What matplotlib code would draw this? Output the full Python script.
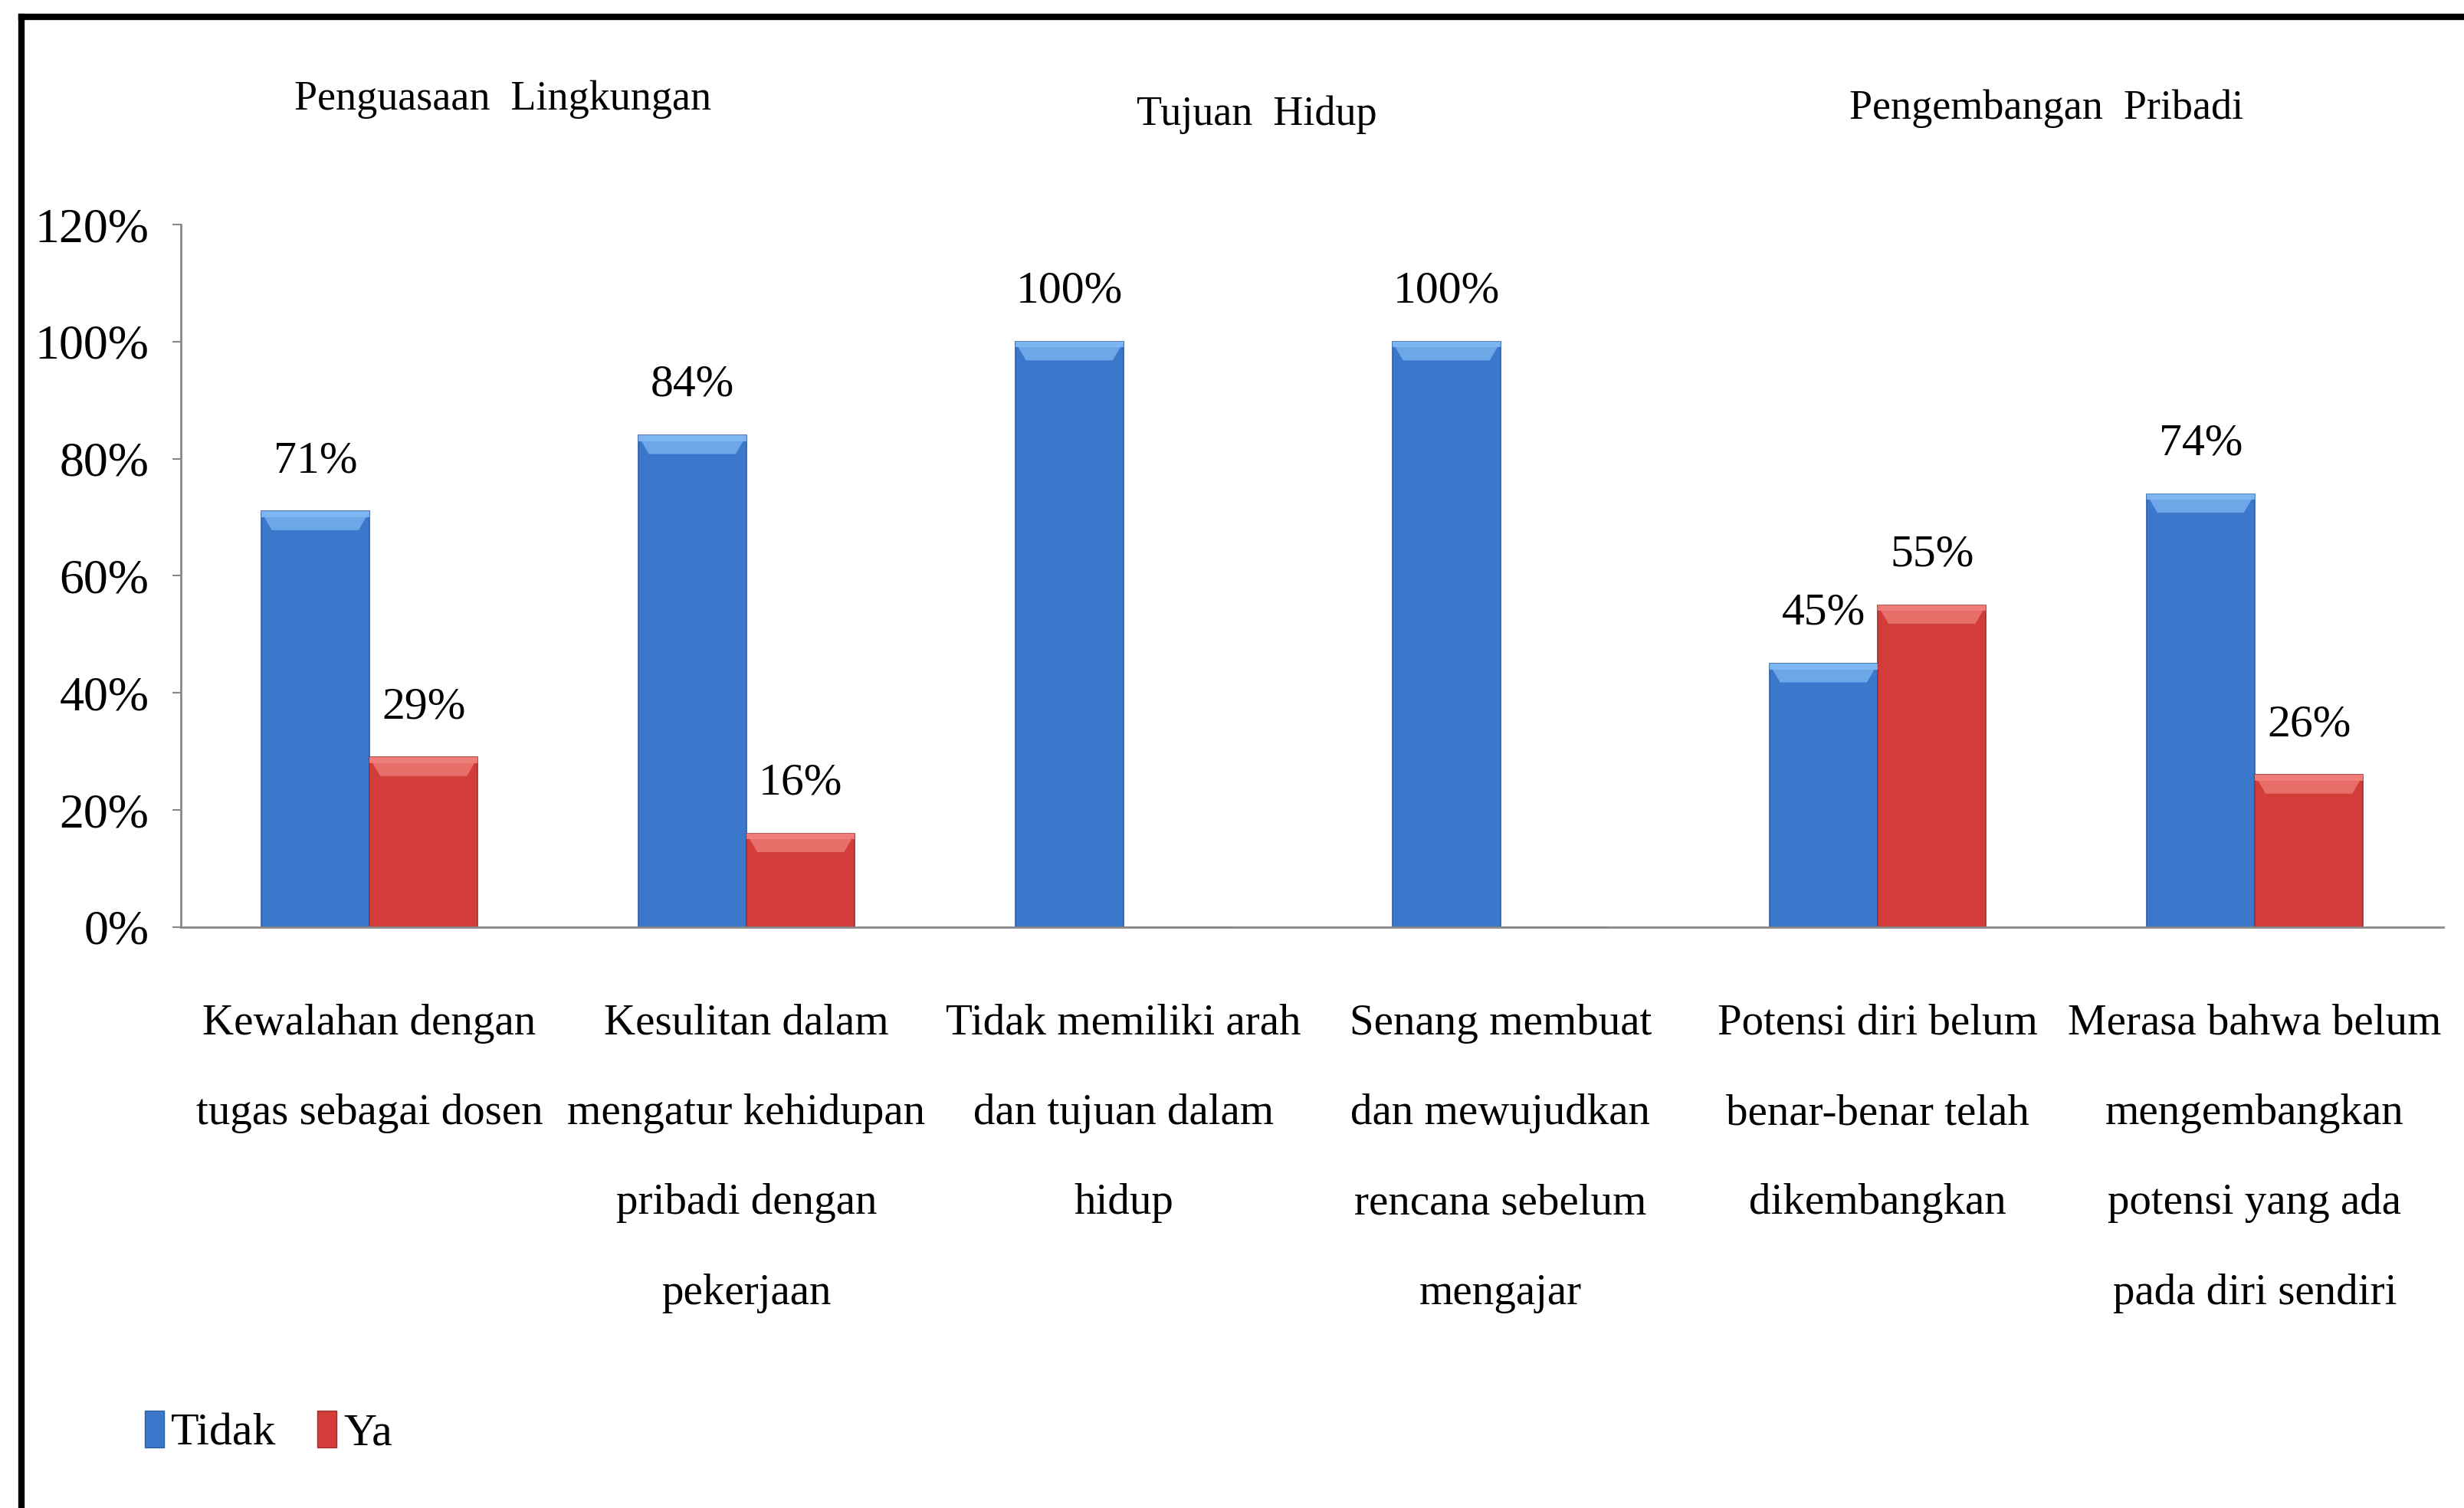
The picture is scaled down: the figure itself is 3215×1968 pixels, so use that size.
import matplotlib
matplotlib.use("Agg")
import matplotlib.pyplot as plt
from matplotlib.patches import Patch, Polygon
from matplotlib.lines import Line2D
import numpy as np

plt.rcParams['font.family'] = ['Liberation Serif', 'DejaVu Serif']

# data
categories = [
    "Kewalahan dengan\ntugas sebagai dosen",
    "Kesulitan dalam\nmengatur kehidupan\npribadi dengan\npekerjaan",
    "Tidak memiliki arah\ndan tujuan dalam\nhidup",
    "Senang membuat\ndan mewujudkan\nrencana sebelum\nmengajar",
    "Potensi diri belum\nbenar-benar telah\ndikembangkan",
    "Merasa bahwa belum\nmengembangkan\npotensi yang ada\npada diri sendiri",
]
tidak = [71, 84, 100, 100, 45, 74]
ya = [29, 16, 0, 0, 55, 26]
series_names = ["Tidak", "Ya"]
yticks = [0, 20, 40, 60, 80, 100, 120]
group_titles = ["Penguasaan  Lingkungan", "Tujuan  Hidup", "Pengembangan  Pribadi"]

blue = "#3b78cc"
blue_light = "#7fb8f2"
blue_edge = "#2d5ea0"
red = "#d23d3a"
red_light = "#f07f7b"
red_edge = "#a02e2b"

fig = plt.figure(figsize=(32.15, 19.68), dpi=100)
ax = fig.add_axes([0.0734, 0.3852, 0.9182, 0.4659])

x = np.arange(len(categories))
w = 0.2875


def draw_bars(xs, vals, color, light, edge):
    bars = ax.bar(xs, vals, w, align="edge", color=color, edgecolor=edge, linewidth=1.2, zorder=2)
    for b, v in zip(bars, vals):
        if v <= 0:
            continue
        x0 = b.get_x()
        x1 = x0 + b.get_width()
        ins = w * 0.1
        # light bevel on top of each bar
        cap = Polygon([(x0, v), (x1, v), (x1 - ins, v - 3.2), (x0 + ins, v - 3.2)],
                      closed=True, facecolor=light, edgecolor="none", alpha=0.75, zorder=3)
        ax.add_patch(cap)
        ax.bar(x0, 1.0, w, bottom=v - 1.0, align="edge", color=light, alpha=0.9,
               linewidth=0, zorder=3)
        ax.text(x0 + w / 2, v + 5.0, f"{v}%", ha="center", va="bottom", fontsize=43, zorder=4)
    return bars


draw_bars(x - w, tidak, blue, blue_light, blue_edge)
draw_bars(x, ya, red, red_light, red_edge)

ax.set_xlim(-0.5, len(categories) - 0.5)
ax.set_ylim(0, 120)
ax.set_yticks(yticks)
ax.set_yticklabels([f"{t}%" for t in yticks], fontsize=46)
ax.set_xticks(x)
ax.set_xticklabels(categories, fontsize=41, linespacing=2.63, va="top")
ax.tick_params(axis="y", length=8, width=1.5, color="#888888", pad=22)
ax.tick_params(axis="x", length=0, pad=72)

for s in ["top", "right"]:
    ax.spines[s].set_visible(False)
for s in ["left", "bottom"]:
    ax.spines[s].set_color("#888888")
    ax.spines[s].set_linewidth(2)

# group titles above the bars
fig.text(656 / 3215, 1 - 130 / 1968, group_titles[0], ha="center", va="center", fontsize=39)
fig.text(1640 / 3215, 1 - 150 / 1968, group_titles[1], ha="center", va="center", fontsize=39)
fig.text(2670 / 3215, 1 - 142 / 1968, group_titles[2], ha="center", va="center", fontsize=39)

# legend
handles = [Patch(facecolor=blue, edgecolor=blue_edge), Patch(facecolor=red, edgecolor=red_edge)]
fig.legend(handles, series_names, loc="center left", bbox_to_anchor=(189 / 3215, 1 - 1870 / 1968),
           ncol=2, frameon=False, fontsize=43, handlelength=0.42, handleheight=0.85,
           handletextpad=0.15, columnspacing=0.9, borderpad=0, borderaxespad=0)

# outer frame (top and left edges visible)
fig.add_artist(Line2D([28 / 3215, 1], [1 - 22 / 1968, 1 - 22 / 1968], color="black", linewidth=6,
                      transform=fig.transFigure))
fig.add_artist(Line2D([28 / 3215, 28 / 3215], [0, 1 - 22 / 1968], color="black", linewidth=6,
                      transform=fig.transFigure))

fig.savefig("out.png", dpi=100)
plt.close(fig)
